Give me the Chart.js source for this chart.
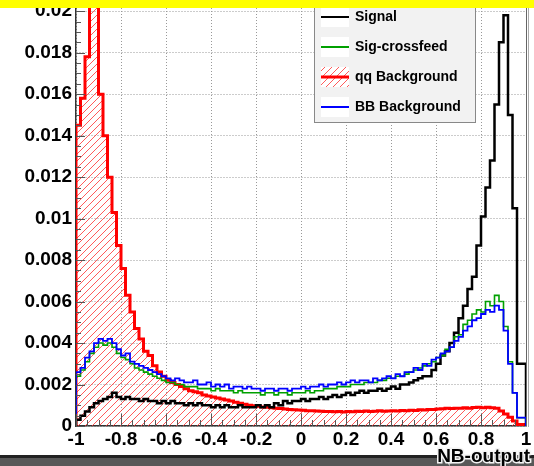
<!DOCTYPE html>
<html>
<head>
<meta charset="utf-8">
<script src="https://cdn.jsdelivr.net/npm/chart.js@4.4.1/dist/chart.umd.min.js"></script>
<style>
  html, body { margin: 0; padding: 0; background: #fff; }
</style>
</head>
<body>
<canvas id="nb" width="534" height="466"></canvas>
<script>
// NB-output histograms, 100 bins from -1 to 1
const xMin = -1;
const xMax = 1;

const signal = [
  0.0001, 0.0003, 0.0005, 0.0007, 0.0009, 0.0011, 0.0012, 0.0013, 0.0014, 0.0016,
  0.0014, 0.0013, 0.0014, 0.0013, 0.0013, 0.0012, 0.0013, 0.0012, 0.0012, 0.0011,
  0.0012, 0.0011, 0.0012, 0.0011, 0.0011, 0.0010, 0.0011, 0.0010, 0.0011, 0.0010,
  0.0010, 0.0009, 0.0010, 0.0009, 0.0010, 0.0009, 0.0009, 0.0010, 0.0009, 0.0009,
  0.0009, 0.0010, 0.0009, 0.0010, 0.0009, 0.0011, 0.0010, 0.0012, 0.0011, 0.0012,
  0.0012, 0.0013, 0.0012, 0.0013, 0.0013, 0.0014, 0.0013, 0.0014, 0.0015, 0.0014,
  0.0015, 0.0016, 0.0015, 0.0016, 0.0017, 0.0016, 0.0017, 0.0017, 0.0018, 0.0017,
  0.0018, 0.0019, 0.0018, 0.0020, 0.0020, 0.0021, 0.0022, 0.0023, 0.0024, 0.0024,
  0.0027, 0.0030, 0.0034, 0.0036, 0.0040, 0.0045, 0.0052, 0.0058, 0.0066, 0.0072,
  0.0087, 0.0101, 0.0115, 0.0128, 0.0155, 0.0185, 0.0198, 0.0150, 0.0105, 0.0030
];

const sigCrossfeed = [
  0.0010, 0.0024, 0.0027, 0.0031, 0.0035, 0.0038, 0.0040, 0.0039, 0.0040, 0.0038,
  0.0035, 0.0033, 0.0032, 0.0030, 0.0028, 0.0027, 0.0026, 0.0025, 0.0024, 0.0023,
  0.0022, 0.0021, 0.0021, 0.0020, 0.0020, 0.0019, 0.0019, 0.0019, 0.0018, 0.0018,
  0.0018, 0.0017, 0.0018, 0.0017, 0.0017, 0.0017, 0.0016, 0.0017, 0.0016, 0.0016,
  0.0016, 0.0016, 0.0015, 0.0016, 0.0016, 0.0015, 0.0016, 0.0016, 0.0015, 0.0016,
  0.0016, 0.0016, 0.0017, 0.0016, 0.0017, 0.0017, 0.0018, 0.0018, 0.0018, 0.0019,
  0.0019, 0.0019, 0.0020, 0.0020, 0.0020, 0.0021, 0.0021, 0.0021, 0.0022, 0.0022,
  0.0023, 0.0023, 0.0024, 0.0024, 0.0025, 0.0026, 0.0027, 0.0028, 0.0029, 0.0030,
  0.0031, 0.0033, 0.0034, 0.0037, 0.0038, 0.0043, 0.0044, 0.0049, 0.0051, 0.0054,
  0.0056, 0.0055, 0.0060, 0.0058, 0.0063, 0.0060, 0.0048, 0.0031, 0.0016, 0.0004
];

const qqBackground = [
  0.0090, 0.0145, 0.0158, 0.0178, 0.0230, 0.0215, 0.0160, 0.0140, 0.0120, 0.0103,
  0.0087, 0.0076, 0.0063, 0.0055, 0.0047, 0.0042, 0.0036, 0.0034, 0.0029, 0.0026,
  0.0024, 0.0022, 0.0021, 0.0020, 0.0019, 0.0018, 0.0017, 0.00165, 0.0016, 0.0015,
  0.00145, 0.0014, 0.00135, 0.0013, 0.00125, 0.0012, 0.00115, 0.0011, 0.00105, 0.0010,
  0.00098, 0.00095, 0.00092, 0.0009, 0.00088, 0.00086, 0.00084, 0.00082, 0.0008, 0.00078,
  0.00077, 0.00076, 0.00074, 0.00073, 0.00072, 0.00071, 0.0007, 0.0007, 0.00069, 0.0007,
  0.00068, 0.0007, 0.00069, 0.00071, 0.0007, 0.00072, 0.0007, 0.00071, 0.00073, 0.00071,
  0.00072, 0.00074, 0.00072, 0.00075, 0.00074, 0.00076, 0.00075, 0.00078, 0.00077, 0.0008,
  0.00079, 0.00082, 0.00083, 0.00085, 0.00084, 0.00086, 0.00085, 0.00088, 0.00086, 0.00089,
  0.0009, 0.00088, 0.0009, 0.00088, 0.00085, 0.00072, 0.00058, 0.00042, 0.00024, 0.00007
];

const bbBackground = [
  0.0012, 0.0026, 0.0028, 0.0033, 0.0036, 0.0040, 0.0042, 0.0041, 0.0042, 0.0040,
  0.0037, 0.0034, 0.0035, 0.0031, 0.0030, 0.0029, 0.0028, 0.0027, 0.0026, 0.0025,
  0.0024, 0.0023, 0.0022, 0.0023, 0.0022, 0.0021, 0.0021, 0.0022, 0.0020, 0.0020,
  0.0021, 0.0019, 0.0020, 0.0019, 0.0020, 0.0018, 0.0019, 0.0019, 0.0018, 0.0019,
  0.0018, 0.0018, 0.0017, 0.0018, 0.0018, 0.0017, 0.0018, 0.0018, 0.0017, 0.0018,
  0.0018, 0.0019, 0.0018, 0.0019, 0.0019, 0.0020, 0.0019, 0.0020, 0.0020, 0.0021,
  0.0020, 0.0021, 0.0022, 0.0021, 0.0022, 0.0022, 0.0021, 0.0023, 0.0022, 0.0023,
  0.0024, 0.0023, 0.0025, 0.0024, 0.0026, 0.0026, 0.0028, 0.0027, 0.0030, 0.0029,
  0.0032, 0.0033, 0.0035, 0.0036, 0.0038, 0.0041, 0.0043, 0.0046, 0.0048, 0.0051,
  0.0052, 0.0054, 0.0056, 0.0055, 0.0058, 0.0056, 0.0046, 0.0030, 0.0016, 0.0004
];

const xTickStep = 0.2;
const yTickStep = 0.002;
const yMax = 0.0203;

const FONT = '"Liberation Sans", Arial, Helvetica, sans-serif';

// bin contents -> step outline points (left edge of each bin)
function histPoints(vals) {
  const w = (xMax - xMin) / vals.length;
  const pts = [{ x: xMin, y: 0 }];
  vals.forEach((v, i) => pts.push({ x: xMin + i * w, y: v }));
  pts.push({ x: xMax, y: vals[vals.length - 1] });
  pts.push({ x: xMax, y: 0 });
  return pts;
}

function hatchPattern(ctx) {
  const c = document.createElement('canvas');
  c.width = 7; c.height = 7;
  const g = c.getContext('2d');
  g.strokeStyle = 'rgba(255,50,50,0.8)';
  g.lineWidth = 1;
  for (let k = -1; k <= 1; k++) {
    g.beginPath();
    g.moveTo(k * 7, 7);
    g.lineTo(k * 7 + 7, 0);
    g.stroke();
  }
  return ctx.createPattern(c, 'repeat');
}

const canvas = document.getElementById('nb');
const ctx0 = canvas.getContext('2d');
const hatch = hatchPattern(ctx0);

const legendRows = [
  { label: 'Signal', color: '#000000' },
  { label: 'Sig-crossfeed', color: '#00a000' },
  { label: 'qq Background', color: '#ff0000', hatch: true },
  { label: 'BB Background', color: '#0000ff' }
];

// ROOT-like decorations: inner ticks, frame, legend, canvas bars
const rootDecor = {
  id: 'rootDecor',
  afterDraw(chart) {
    const { ctx, chartArea: a, scales: { x, y } } = chart;
    ctx.save();

    // inner ticks
    ctx.strokeStyle = '#555';
    ctx.lineWidth = 1;
    ctx.beginPath();
    for (let k = 0; k <= 40; k++) {
      const v = k * 0.0005;
      if (v > yMax) break;
      const py = Math.round(y.getPixelForValue(v)) + 0.5;
      const len = k % 4 === 0 ? 9 : 5;
      ctx.moveTo(a.left, py);
      ctx.lineTo(a.left + len, py);
    }
    for (let k = 0; k <= 40; k++) {
      const v = xMin + k * 0.05;
      const px = Math.round(x.getPixelForValue(v)) + 0.5;
      const len = k % 4 === 0 ? 12 : 6;
      ctx.moveTo(px, a.bottom);
      ctx.lineTo(px, a.bottom - len);
    }
    ctx.stroke();

    // right frame
    ctx.strokeStyle = '#666';
    ctx.beginPath();
    ctx.moveTo(a.right + 0.5, 0);
    ctx.lineTo(a.right + 0.5, a.bottom);
    ctx.stroke();
    ctx.strokeStyle = '#aaa';
    ctx.beginPath();
    ctx.moveTo(a.right + 2.5, 0);
    ctx.lineTo(a.right + 2.5, a.bottom + 1);
    ctx.stroke();

    // legend box
    const lx = 314, ly = -2, lw = 161, lh = 124;
    ctx.fillStyle = '#f2f2f2';
    ctx.fillRect(lx, ly, lw, lh);
    ctx.strokeStyle = '#888';
    ctx.strokeRect(lx + 0.5, ly + 0.5, lw, lh);
    legendRows.forEach((r, j) => {
      const cy = 17 + j * 30;
      ctx.fillStyle = '#fff';
      ctx.fillRect(321, cy - 10, 28, 20);
      if (r.hatch) {
        ctx.fillStyle = hatch;
        ctx.fillRect(321, cy - 10, 28, 20);
      }
      ctx.strokeStyle = r.color;
      ctx.lineWidth = r.hatch ? 3 : 2;
      ctx.beginPath();
      ctx.moveTo(321, cy);
      ctx.lineTo(349, cy);
      ctx.stroke();
      ctx.fillStyle = '#000';
      ctx.font = 'bold 14px ' + FONT;
      ctx.textBaseline = 'middle';
      ctx.textAlign = 'left';
      ctx.fillText(r.label, 355, cy);
    });

    // top yellow band
    ctx.fillStyle = '#ffff00';
    ctx.fillRect(0, 0, chart.width, 8);

    // bottom grey band
    ctx.fillStyle = '#222';
    ctx.fillRect(0, 455, chart.width, 3);
    ctx.fillStyle = '#585858';
    ctx.fillRect(0, 458, chart.width, 8);

    // axis title
    ctx.font = 'bold 19px ' + FONT;
    ctx.textAlign = 'right';
    ctx.textBaseline = 'middle';
    ctx.lineWidth = 3;
    ctx.strokeStyle = '#f4f4f4';
    ctx.strokeText('NB-output', 530, 457);
    ctx.fillStyle = '#000';
    ctx.fillText('NB-output', 530, 457);

    ctx.restore();
  }
};

const tickFont = { family: FONT, size: 19, weight: 'bold' };

new Chart(canvas, {
  type: 'line',
  data: {
    datasets: [
      {
        label: 'qq Background', data: histPoints(qqBackground),
        borderColor: '#ff0000', borderWidth: 3, backgroundColor: hatch,
        fill: 'origin', order: 4
      },
      {
        label: 'Signal', data: histPoints(signal),
        borderColor: '#000000', borderWidth: 2.5, fill: false, order: 3
      },
      {
        label: 'Sig-crossfeed', data: histPoints(sigCrossfeed),
        borderColor: '#00a000', borderWidth: 1.6, fill: false, order: 2
      },
      {
        label: 'BB Background', data: histPoints(bbBackground),
        borderColor: '#0000ff', borderWidth: 1.8, fill: false, order: 1
      }
    ]
  },
  plugins: [rootDecor],
  options: {
    responsive: false,
    animation: false,
    events: [],
    layout: { padding: { top: 5, right: 8, left: 0, bottom: 0 } },
    elements: {
      point: { radius: 0 },
      line: { stepped: 'after', tension: 0 }
    },
    plugins: {
      legend: { display: false },
      tooltip: { enabled: false }
    },
    scales: {
      x: {
        type: 'linear',
        min: xMin,
        max: xMax,
        ticks: {
          stepSize: xTickStep,
          color: '#000',
          font: tickFont,
          padding: 2,
          maxRotation: 0,
          autoSkip: false,
          includeBounds: false,
          callback: v => String(Math.round(v * 10) / 10)
        },
        grid: { color: '#999', lineWidth: 1, drawTicks: false },
        border: { color: '#333', width: 1.5, dash: [1, 2] },
        afterFit: s => {
          s.height = 40;
          s.paddingLeft = 0; s.paddingRight = 0;
          s.paddingTop = 0; s.paddingBottom = 0;
        }
      },
      y: {
        min: 0,
        max: yMax,
        ticks: {
          stepSize: yTickStep,
          color: '#000',
          font: tickFont,
          padding: 4,
          autoSkip: false,
          includeBounds: false,
          callback: v => String(Math.round(v * 1000) / 1000)
        },
        grid: { color: '#999', lineWidth: 1, drawTicks: false },
        border: { color: '#333', width: 1.5, dash: [1, 2] },
        afterFit: s => {
          s.width = 76;
          s.paddingLeft = 0; s.paddingRight = 0;
          s.paddingTop = 0; s.paddingBottom = 0;
        }
      }
    }
  }
});
</script>
</body>
</html>
